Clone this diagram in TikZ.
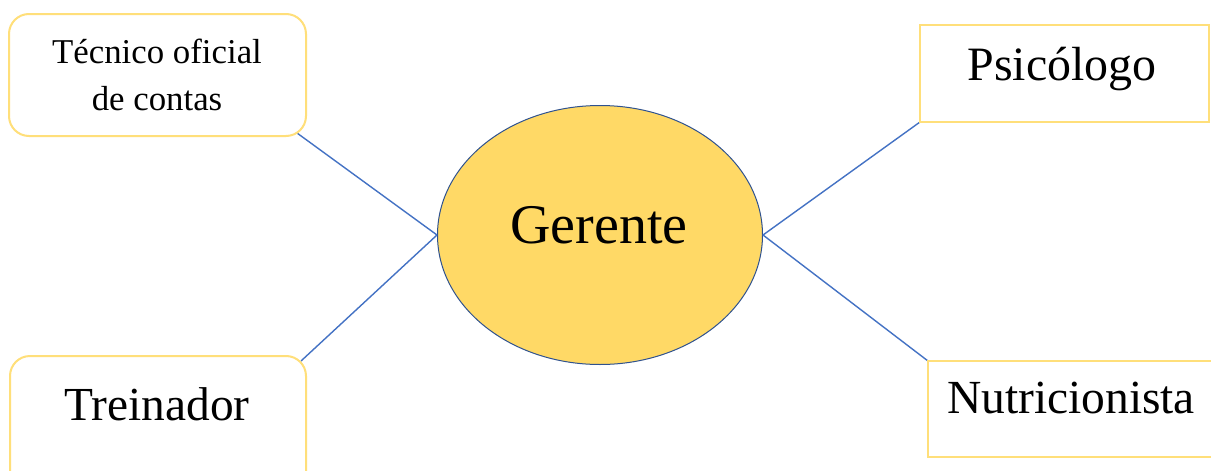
\documentclass[tikz,border=0pt]{standalone}
\usepackage{fontspec}
\setmainfont{Liberation Serif}
\usetikzlibrary{shapes.geometric}
\definecolor{boxyellow}{HTML}{FFDF7A}
\definecolor{ellfill}{HTML}{FFD966}
\definecolor{ellborder}{HTML}{2F528F}
\definecolor{linkblue}{HTML}{4472C4}
\tikzset{
  roundbox/.style={draw=boxyellow, line width=2pt, rounded corners=20pt, fill=white},
  squarebox/.style={draw=boxyellow, line width=2pt, fill=white},
  link/.style={draw=linkblue, line width=1.4pt},
  lbl/.style={anchor=base, inner sep=0pt, align=center},
}
\begin{document}
\begin{tikzpicture}[x=1pt,y=-1pt]
\useasboundingbox (0,0) rectangle (1211,471);
\clip (0,0) rectangle (1211,471);
\fill[white] (0,0) rectangle (1211,471);
% connectors
\coordinate (tlc) at (297,133);
\coordinate (blc) at (301,361);
\coordinate (trc) at (920,122);
\coordinate (brc) at (928,361);
\node[ellipse, draw=ellborder, line width=1pt, fill=ellfill, minimum width=325pt, minimum height=259pt, inner sep=0pt] (ger) at (600,235) {};
\draw[link] (tlc) -- (ger.west);
\draw[link] (blc) -- (ger.west);
\draw[link] (trc) -- (ger.east);
\draw[link] (brc) -- (ger.east);
% boxes
\draw[roundbox] (9,14) rectangle (306,136);
\draw[roundbox] (10,356) rectangle (306,500);
\draw[squarebox] (920,25) rectangle (1209,122);
\draw[squarebox] (928,361) rectangle (1225,457);
% labels
\node[lbl, font=\fontsize{34.8pt}{47pt}\selectfont] (t1) at (157,63) {Técnico oficial};
\node[lbl, font=\fontsize{34.8pt}{47pt}\selectfont] (t2) at (157,110) {de contas};
\node[lbl, font=\fontsize{47.4pt}{56pt}\selectfont] (t3) at (157,420) {Treinador};
\node[lbl, font=\fontsize{56pt}{66pt}\selectfont] (t4) at (599,243) {Gerente};
\node[lbl, font=\fontsize{47.9pt}{56pt}\selectfont] (t5) at (1062,80) {Psicólogo};
\node[lbl, font=\fontsize{47.5pt}{56pt}\selectfont] (t6) at (1071,413) {Nutricionista};
\end{tikzpicture}
\end{document}
